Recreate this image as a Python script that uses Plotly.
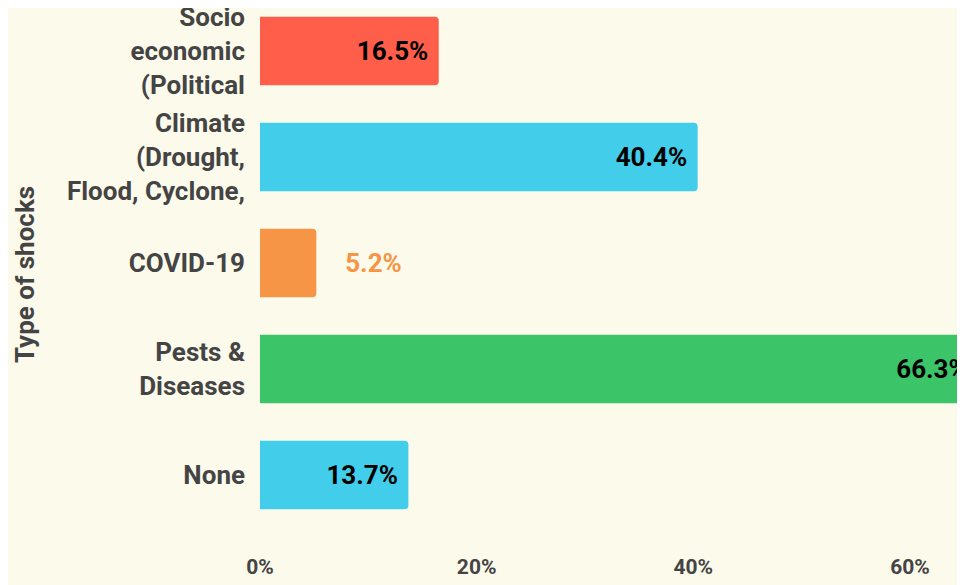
import plotly.graph_objects as go

categories = ["Socio<br>economic<br>(Political", "Climate<br>(Drought,<br>Flood, Cyclone,", "COVID-19", "Pests &<br>Diseases", "None"]
values = [16.5, 40.4, 5.2, 66.3, 13.7]
bar_colors = ["#FF5E4A", "#42CDEB", "#F69546", "#3CC468", "#42CDEB"]
tick_vals = [0, 20, 40, 60]
tick_text = ["0%", "20%", "40%", "60%"]
axis_title = "Type of shocks"

NB = "\u00a0"
fig = go.Figure(go.Bar(
    x=values,
    y=categories,
    orientation="h",
    marker=dict(color=bar_colors, line=dict(width=0)),
    texttemplate=NB * 4 + "%{x}%" + NB,
    textposition="auto",
    insidetextanchor="end",
    insidetextfont=dict(family="Roboto", size=26, color="#000000", weight="bold"),
    outsidetextfont=dict(family="Roboto", size=26, color=bar_colors, weight="bold"),
    cliponaxis=True,
    hoverinfo="skip",
))

fig.update_layout(
    width=957,
    height=577,
    margin=dict(l=252, r=0, t=0, b=33),
    paper_bgcolor="#FCFAEB",
    plot_bgcolor="#FCFAEB",
    bargap=0.354,
    barcornerradius=4,
    showlegend=False,
    font=dict(family="Roboto", color="#444444"),
    annotations=[dict(
        text=axis_title, textangle=-90,
        xref="paper", yref="paper", x=-0.3333, y=0.5092,
        xanchor="center", yanchor="middle", showarrow=False,
        font=dict(family="Roboto", size=26, color="#444444", weight="bold"),
    )],
)
fig.update_xaxes(
    range=[0, 65.08],
    tickvals=tick_vals,
    ticktext=tick_text,
    showgrid=False,
    zeroline=False,
    showline=False,
    ticks="",
    automargin=False,
    tickfont=dict(family="Roboto", size=21, color="#444444", weight="bold"),
)
fig.update_yaxes(
    categoryorder="array",
    categoryarray=categories,
    range=[4.726, -0.4057],
    showgrid=False,
    zeroline=False,
    showline=False,
    ticks="",
    automargin=False,
    ticklabelstandoff=14,
    tickfont=dict(family="Roboto", size=26, color="#444444", weight="bold"),
)

fig.write_html("out.html")
